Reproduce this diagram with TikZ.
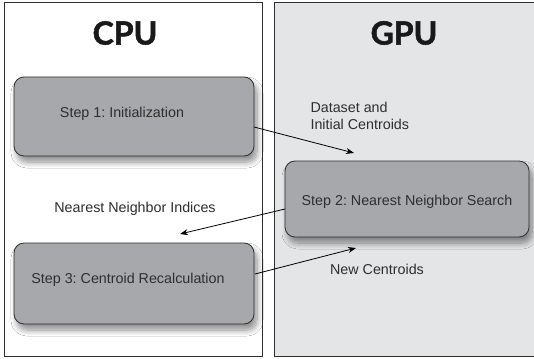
\documentclass[tikz,border=0pt]{standalone}
\usepackage{fontspec}
\setmainfont{Liberation Sans}
\newfontfamily\titlefont{Lato}[BoldFeatures={FakeBold=1.6}]
\usetikzlibrary{arrows.meta,shadows.blur}
\definecolor{gpubg}{HTML}{E4E5E7}
\definecolor{stepfill}{HTML}{A7A8AB}
\definecolor{inkgray}{HTML}{2E2E2E}
\frenchspacing
\tikzset{
  panel/.style={draw=inkgray, line width=0.8pt},
  stepbox/.style={draw=inkgray, line width=0.8pt, fill=stepfill, rounded corners=10pt,
    blur shadow={shadow xshift=3pt, shadow yshift=-6pt, shadow blur steps=8, shadow blur radius=6pt, shadow opacity=45}},
  steptext/.style={font=\fontsize{14.3}{17}\selectfont, text=inkgray},
  lbl/.style={font=\fontsize{14.3}{17}\selectfont, text=inkgray},
  title/.style={font=\titlefont\bfseries\fontsize{32}{34}\selectfont, text=black!90},
  flow/.style={draw=black, line width=0.8pt, -{Stealth[length=8pt,width=6pt]}}
}
\begin{document}
\begin{tikzpicture}[x=1pt,y=-1pt]
  \useasboundingbox (0,0) rectangle (534,358);
  \fill[white] (0,0) rectangle (534,358);

  % processor panels
  \draw[panel] (4,2) rectangle (262,356);
  \draw[panel, fill=gpubg] (274,2) rectangle (538,356);
  \node[title] (cpu) at (125,33) {CPU};
  \node[title] (gpu) at (404,33) {GPU};

  % processing steps
  \path[stepbox] (14,77) rectangle (254,156);
  \node[steptext] (s1) at (122,114) {Step 1: Initialization};
  \coordinate (s1e) at (254,127);

  \path[stepbox] (285,161) rectangle (529,237);
  \node[steptext] (s2) at (407,202) {Step 2: Nearest Neighbor Search};
  \coordinate (s2w) at (285,209);

  \path[stepbox] (14,243) rectangle (254,324);
  \node[steptext] (s3) at (128,280) {Step 3: Centroid Recalculation};
  \coordinate (s3e) at (255,274);

  % arrow ends
  \coordinate (toGpu) at (354,153);
  \coordinate (toCpu) at (180,234);
  \coordinate (backGpu) at (356,248);

  \draw[flow] (s1e) -- (toGpu);
  \draw[flow] (s2w) -- (toCpu);
  \draw[flow] (s3e) -- (backGpu);

  % transfer labels
  \node[lbl, align=left, anchor=west] (dlbl) at (307,116) {Dataset and\\Initial Centroids};
  \node[lbl] (nlbl) at (135,209) {Nearest Neighbor Indices};
  \node[lbl] (clbl) at (377,269) {New Centroids};
\end{tikzpicture}
\end{document}
